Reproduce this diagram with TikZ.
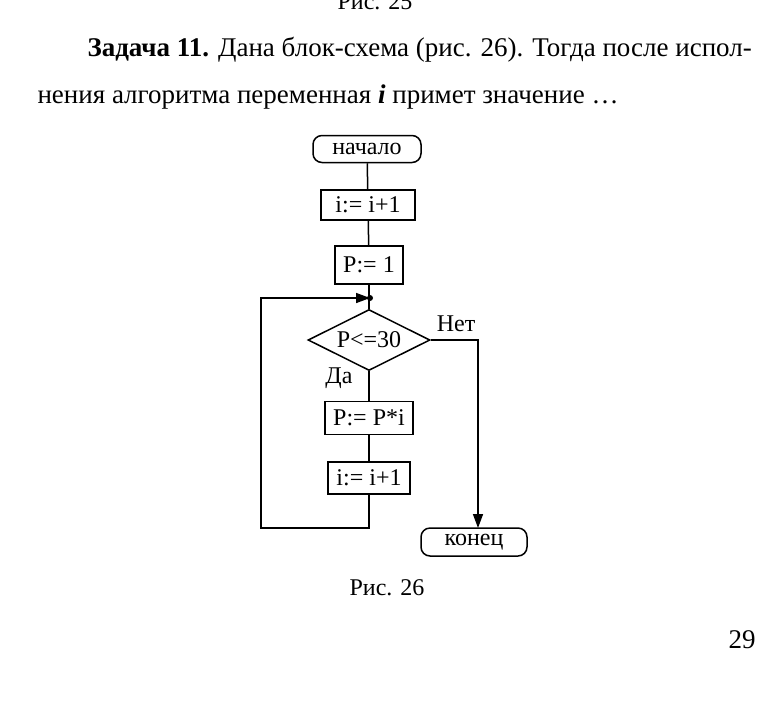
\documentclass[tikz,border=0pt]{standalone}
\usepackage{fontspec}
\setmainfont{Liberation Serif}
\usetikzlibrary{shapes.geometric}
\usetikzlibrary{arrows.meta}

\tikzset{
  blok/.style={draw, line width=1.5pt, minimum height=30pt, inner sep=2pt, font=\fontsize{24}{26}\selectfont},
  term/.style={blok, rounded corners=9pt, minimum height=27pt},
  uslovie/.style={draw, line width=1.5pt, diamond, aspect=2, minimum width=122pt, minimum height=61pt, inner sep=0pt, font=\fontsize{24}{26}\selectfont},
  metka/.style={font=\fontsize{24}{26}\selectfont},
  strelka/.style={line width=1.5pt, -{Triangle[length=14pt,width=10pt]}}
}

\begin{document}
\begin{tikzpicture}[x=1pt,y=-1pt]
  \useasboundingbox (0,0) rectangle (778,724);
  \node[metka] (ris25) at (375,2) {Рис. 25};
  \node[metka, anchor=west, font=\fontsize{27}{29}\selectfont] (zad1) at (84,50)
    {\textbf{Задача 11.} Дана блок-схема (рис. 26). Тогда после испол-};
  \node[metka, anchor=west, font=\fontsize{27}{29}\selectfont] (zad2) at (34,97)
    {нения алгоритма переменная \textbf{\textit{i}} примет значение \dots};

  \node[term, minimum width=108pt] (nach) at (367,149) {начало};
  \node[blok, minimum width=94pt] (inc1) at (368,205) {i:= i+1};
  \node[blok, minimum width=68pt, minimum height=38pt] (p1) at (369,265) {P:= 1};
  \coordinate (uzel) at (370,298);
  \node[uslovie] (usl) at (369,340) {P<=30};
  \node[blok, minimum width=88pt, minimum height=33pt] (umn) at (369,418) {P:= P*i};
  \node[blok, minimum width=82pt, minimum height=32pt] (inc2) at (369,478) {i:= i+1};
  \node[term, minimum width=106pt, minimum height=28pt] (kon) at (474,542) {конец};
  \coordinate (niz) at (369,528);
  \coordinate (vhod) at (478,528);

  \draw[line width=1.5pt] (nach) -- (inc1);
  \draw[line width=1.5pt] (inc1) -- (p1);
  \draw[line width=1.5pt] (p1.south) -- (usl.north);
  \draw[line width=1.5pt] (usl.south) -- (umn);
  \draw[line width=1.5pt] (umn) -- (inc2);
  \draw[strelka] (inc2.south) -- (niz) -| (261,298) -- (uzel);
  \fill (uzel) circle (3pt);
  \draw[strelka] (usl.east) -| (vhod);
  \node[metka] (net) at (456,324) {Нет};
  \node[metka] (da) at (339,378) {Да};

  \node[metka] (ris26) at (387,588) {Рис. 26};
  \node[metka, font=\fontsize{27}{29}\selectfont] (str) at (742,640) {29};
\end{tikzpicture}
\end{document}
